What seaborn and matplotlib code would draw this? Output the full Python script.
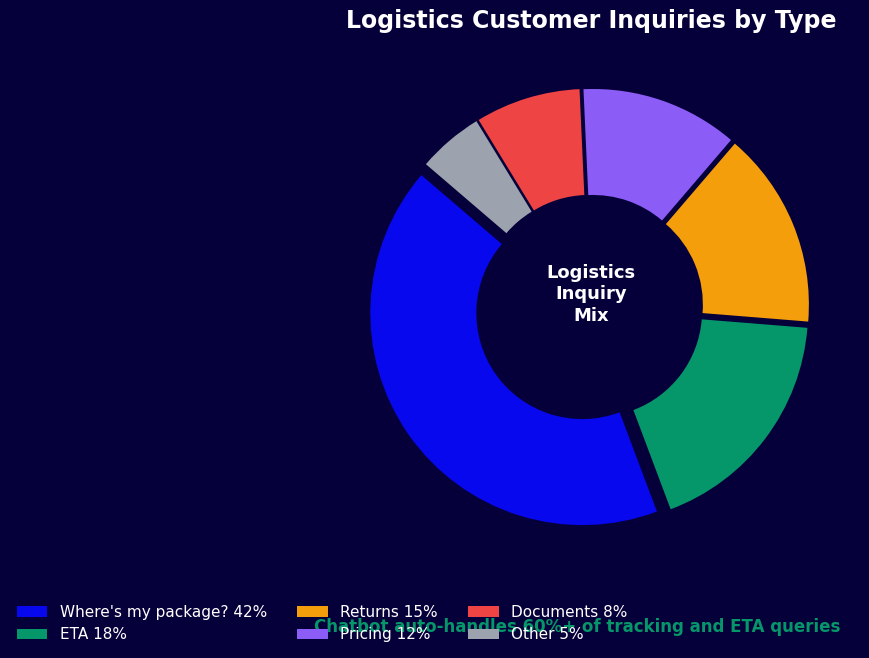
import matplotlib
matplotlib.use("Agg")
import matplotlib.pyplot as plt
import seaborn as sns

labels = ["Where's my package?", "ETA", "Returns", "Pricing", "Documents", "Other"]
shares = [42, 18, 15, 12, 8, 5]
colors = ["#0808EE", "#059669", "#F59E0B", "#8B5CF6", "#EF4444", "#9CA3AF"]
explode = [0.05, 0.03, 0.03, 0.03, 0.03, 0.03]

bg = "#06003A"

sns.set_theme(style="dark")
plt.rcParams['font.family'] = ['DejaVu Sans']

fig = plt.figure(figsize=(8.7, 6.58), dpi=100, facecolor=bg)
ax = fig.add_axes([326 / 870, 86 / 658, 530 / 870, 530 / 658])
ax.set_facecolor(bg)

legend_labels = [f"{l} {s}%" for l, s in zip(labels, shares)]
wedges, _ = ax.pie(shares, colors=colors, explode=explode, startangle=139.4,
                   counterclock=True, radius=1.0,
                   wedgeprops=dict(width=0.5, edgecolor=bg, linewidth=0))
ax.set_aspect("equal")

ax.text(0, 0.06, "Logistics\nInquiry\nMix", ha="center", va="center",
        color="white", fontsize=13, fontweight="bold", linespacing=1.25)
ax.set_title("Logistics Customer Inquiries by Type", color="white",
             fontsize=17, fontweight="bold", pad=10)

leg = fig.legend(wedges, legend_labels, loc="lower left", ncol=3,
                 bbox_to_anchor=(0.0035, 0.003), frameon=False, fontsize=11,
                 labelcolor="white", handlelength=2.0, columnspacing=2.0)

fig.text(0.966, 0.047, "Chatbot auto-handles 60%+ of tracking and ETA queries",
         ha="right", va="center", color="#059669", fontsize=12, fontweight="bold")

fig.savefig("out.png", dpi=100, facecolor=bg)
